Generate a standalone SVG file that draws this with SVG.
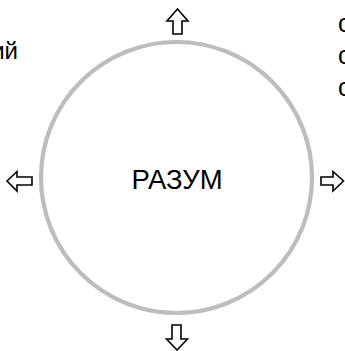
<svg xmlns="http://www.w3.org/2000/svg" width="345" height="351" viewBox="0 0 345 351">
<style>
.lbl{font-family:"Liberation Sans",Arial,sans-serif;fill:#000}
.arr{fill:#fff;stroke:#000;stroke-width:1.6;stroke-linejoin:miter}
</style>
<rect width="345" height="351" fill="#fff"/>
<g id="node-razum">
<circle cx="176.5" cy="177.5" r="135.5" fill="none" stroke="#bdbdbd" stroke-width="4.2"/>
<text class="lbl" x="177" y="189" font-size="27.5" text-anchor="middle">РАЗУМ</text>
</g>
<g id="node-left-text">
<text class="lbl" x="18" y="59" font-size="24" text-anchor="end">ий</text>
</g>
<g id="node-right-text">
<text class="lbl" x="338" y="32" font-size="25">с</text>
<text class="lbl" x="338" y="64" font-size="25">с</text>
<text class="lbl" x="338" y="96" font-size="25">с</text>
</g>
<g id="connectors">
<polygon class="arr" points="177.5,9 188,21 182,21 182,34 173,34 173,21 167,21"/>
<polygon class="arr" points="172,325 181,325 181,339 187.5,339 177,350 166.5,339 172,339"/>
<polygon class="arr" points="7,181 17,171.5 17,177 32,177 32,185 17,185 17,191"/>
<polygon class="arr" points="321,177 333,177 333,171.5 343.5,181 333,191 333,185 321,185"/>
</g>
</svg>
